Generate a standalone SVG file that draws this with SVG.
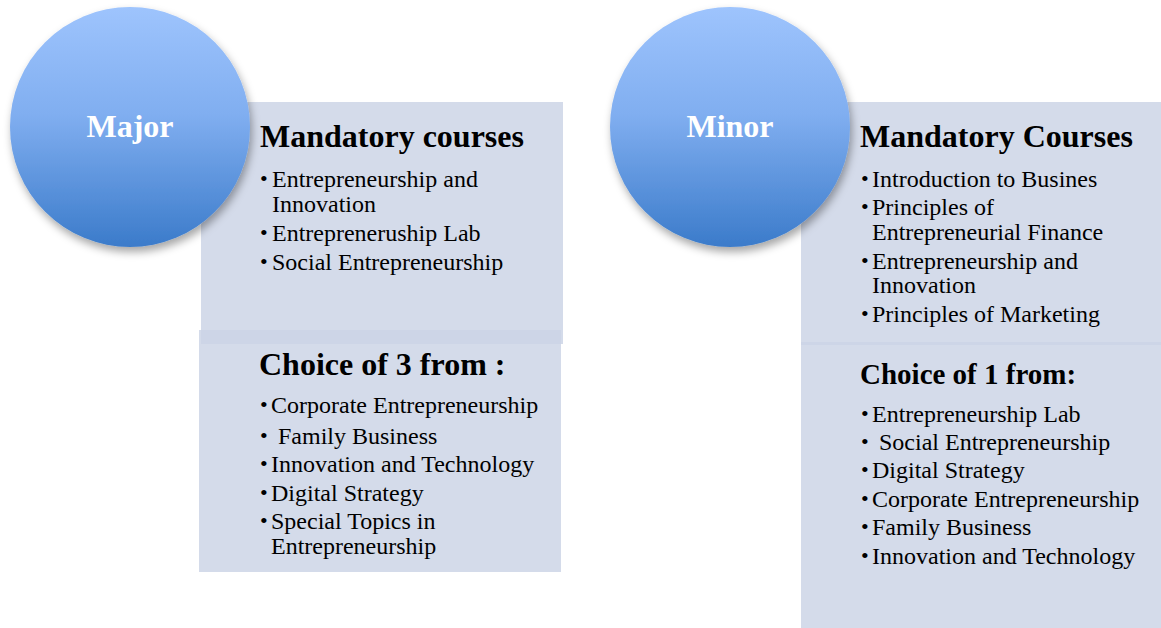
<svg xmlns="http://www.w3.org/2000/svg" width="1161" height="628" viewBox="0 0 1161 628">
<defs>
<linearGradient id="circ" x1="0" y1="0" x2="0" y2="1">
<stop offset="0" stop-color="#9ec4fd"/>
<stop offset="0.45" stop-color="#80aef0"/>
<stop offset="1" stop-color="#3b7bca"/>
</linearGradient>
<filter id="sh" x="-20%" y="-20%" width="140%" height="140%">
<feDropShadow dx="2" dy="5" stdDeviation="4" flood-color="#000" flood-opacity="0.35"/>
</filter>
<style>
.box{fill:rgb(204,212,230);fill-opacity:0.84}
.circle{fill:url(#circ);filter:url(#sh)}
.ctitle{font-family:"Liberation Serif","Times New Roman",serif;font-weight:bold;font-size:32px;fill:#fff;text-anchor:middle}
.h{font-family:"Liberation Serif","Times New Roman",serif;font-weight:bold;font-size:32px;fill:#000}
.h2{font-family:"Liberation Serif","Times New Roman",serif;font-weight:bold;font-size:29px;fill:#000}
.t{font-family:"Liberation Serif","Times New Roman",serif;font-size:24px;fill:#000}
.b{font-family:"Liberation Serif","Times New Roman",serif;font-size:22px;fill:#000}
</style>
</defs>
<rect width="1161" height="628" fill="#fff"/>

<g id="major-mandatory">
<rect class="box" x="201" y="102" width="362" height="242"/>
<text class="h" x="260" y="147">Mandatory courses</text>
<text class="b" x="260" y="186">•</text><text class="t" x="272" y="187">Entrepreneurship and</text>
<text class="t" x="272" y="212">Innovation</text>
<text class="b" x="260" y="240">•</text><text class="t" x="272" y="241">Entrepreneruship Lab</text>
<text class="b" x="260" y="269">•</text><text class="t" x="272" y="270">Social Entrepreneurship</text>
</g>

<g id="major-choice">
<rect class="box" x="199" y="330" width="362" height="242"/>
<text class="h" x="259" y="375">Choice of 3 from :</text>
<text class="b" x="260" y="412">•</text><text class="t" x="271" y="413">Corporate Entrepreneurship</text>
<text class="b" x="260" y="443">•</text><text class="t" x="278" y="444">Family Business</text>
<text class="b" x="260" y="471">•</text><text class="t" x="271" y="472">Innovation and Technology</text>
<text class="b" x="260" y="500">•</text><text class="t" x="271" y="501">Digital Strategy</text>
<text class="b" x="260" y="528">•</text><text class="t" x="271" y="529">Special Topics in</text>
<text class="t" x="271" y="554">Entrepreneurship</text>
</g>

<g id="major">
<circle class="circle" cx="130" cy="127" r="120"/>
<text class="ctitle" x="130" y="137">Major</text>
</g>

<g id="minor-mandatory">
<rect class="box" x="801" y="102" width="362" height="243"/>
<text class="h" x="860" y="147">Mandatory Courses</text>
<text class="b" x="861" y="186">•</text><text class="t" x="872" y="187">Introduction to Busines</text>
<text class="b" x="861" y="214">•</text><text class="t" x="872" y="215">Principles of</text>
<text class="t" x="872" y="240">Entrepreneurial Finance</text>
<text class="b" x="861" y="268">•</text><text class="t" x="872" y="269">Entrepreneurship and</text>
<text class="t" x="872" y="293">Innovation</text>
<text class="b" x="861" y="321">•</text><text class="t" x="872" y="322">Principles of Marketing</text>
</g>

<g id="minor-choice">
<rect class="box" x="801" y="342" width="362" height="290"/>
<text class="h2" x="860" y="384">Choice of 1 from:</text>
<text class="b" x="861" y="421">•</text><text class="t" x="872" y="422">Entrepreneurship Lab</text>
<text class="b" x="861" y="449">•</text><text class="t" x="879" y="450">Social Entrepreneurship</text>
<text class="b" x="861" y="477">•</text><text class="t" x="872" y="478">Digital Strategy</text>
<text class="b" x="861" y="506">•</text><text class="t" x="872" y="507">Corporate Entrepreneurship</text>
<text class="b" x="861" y="534">•</text><text class="t" x="872" y="535">Family Business</text>
<text class="b" x="861" y="563">•</text><text class="t" x="872" y="564">Innovation and Technology</text>
</g>

<g id="minor">
<circle class="circle" cx="730" cy="127" r="120"/>
<text class="ctitle" x="730" y="137">Minor</text>
</g>

<g id="connectors"></g>
</svg>
